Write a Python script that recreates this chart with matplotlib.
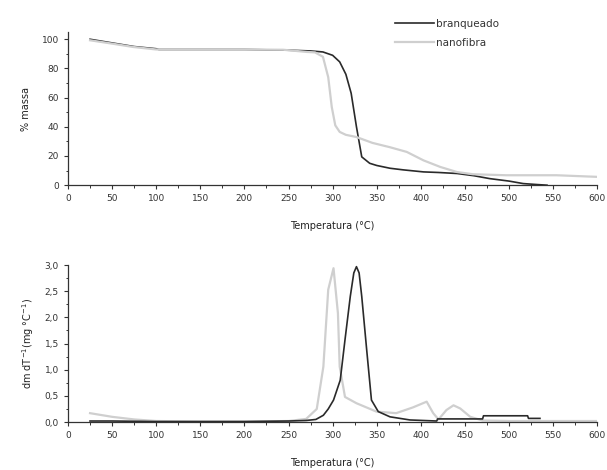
import matplotlib
matplotlib.use('Agg')
import matplotlib.pyplot as plt
from matplotlib.ticker import MultipleLocator, FuncFormatter

# TG - % massa
T_b = [25, 50, 75, 100, 103, 150, 200, 250, 275, 289, 300, 308, 315, 321, 327, 333, 342, 350,
       365, 380, 403, 420, 441, 460, 478, 500, 516, 530, 543]
m_b = [100, 97.5, 95, 93.5, 93, 93, 93, 92.5, 92, 91.3, 89, 84.5, 76, 63, 40, 19.4, 15, 13.5,
       11.6, 10.5, 9.1, 8.7, 8, 6.5, 4.5, 2.8, 1.1, 0.5, 0]
T_n = [25, 50, 74, 100, 150, 200, 244, 271, 280, 289, 295, 299, 303, 308, 315, 327, 345, 365,
       384, 403, 422, 441, 459, 497, 554, 600]
m_n = [99.3, 97, 94.7, 93, 93, 93, 92.8, 91.3, 91, 88, 74, 53.6, 41, 36.5, 34.5, 33, 29, 26,
       22.8, 17, 12.5, 9, 7.5, 6.8, 6.8, 5.7]

# DTG
T_db = [25, 50, 100, 200, 250, 270, 281, 289.5, 295, 301, 308.6, 314, 320, 324, 327, 330, 333,
        338.6, 344, 351.7, 365, 387.7, 418, 419, 470, 471, 521, 522, 535]
d_b = [0.02, 0.02, 0.01, 0.01, 0.02, 0.03, 0.05, 0.13, 0.25, 0.42, 0.8, 1.57, 2.4, 2.85, 2.97,
       2.85, 2.4, 1.38, 0.42, 0.2, 0.1, 0.04, 0.02, 0.06, 0.06, 0.12, 0.12, 0.07, 0.07]
T_dn = [25, 50, 75, 100, 150, 200, 250, 270, 282, 289.5, 295, 301, 306, 308, 314, 327, 349.6,
        372, 391, 406.6, 414, 420, 429, 437, 444.6, 456, 470, 500, 550, 600]
d_n = [0.17, 0.1, 0.05, 0.02, 0.01, 0.01, 0.02, 0.06, 0.25, 1.06, 2.53, 2.94, 2.08, 1.06, 0.48,
       0.36, 0.2, 0.17, 0.28, 0.39, 0.17, 0.05, 0.23, 0.32, 0.26, 0.1, 0.03, 0.02, 0.02, 0.02]

PRETO = '#2a2a2a'
CINZA = '#cfcfcf'
FS = 6.5

fig = plt.figure(figsize=(6.07, 4.70), dpi=100)
ax1 = fig.add_axes([0.112, 0.606, 0.872, 0.326])
ax2 = fig.add_axes([0.112, 0.102, 0.872, 0.334])

# cinza por cima do preto onde as curvas se sobrepoem (como no original)
ax1.plot(T_b, m_b, color=PRETO, lw=1.2, label='branqueado', zorder=2)
ax1.plot(T_n, m_n, color=CINZA, lw=1.6, label='nanofibra', zorder=3)
ax2.plot(T_dn, d_n, color=CINZA, lw=1.6)
ax2.plot(T_db, d_b, color=PRETO, lw=1.2)

for ax in (ax1, ax2):
    for s in ('top', 'right'):
        ax.spines[s].set_visible(False)
    for s in ('left', 'bottom'):
        ax.spines[s].set_color('#333333')
        ax.spines[s].set_linewidth(0.9)
    ax.set_xlim(0, 600)
    ax.xaxis.set_major_locator(MultipleLocator(50))
    ax.xaxis.set_minor_locator(MultipleLocator(25))
    ax.tick_params(which='major', direction='out', length=3, width=0.8,
                   labelsize=FS, colors='#333333')
    ax.tick_params(which='minor', direction='out', length=1.8, width=0.7, colors='#333333')
    ax.set_xlabel('Temperatura (°C)', fontsize=FS + 0.5, color='#222222', labelpad=13)

ax1.set_ylim(0, 105)
ax1.yaxis.set_major_locator(MultipleLocator(20))
ax1.yaxis.set_minor_locator(MultipleLocator(10))
ax1.set_ylabel('% massa', fontsize=FS + 0.5, color='#222222', labelpad=8)

ax2.set_ylim(0, 3.0)
ax2.yaxis.set_major_locator(MultipleLocator(0.5))
ax2.yaxis.set_minor_locator(MultipleLocator(0.25))
ax2.yaxis.set_major_formatter(FuncFormatter(lambda v, p: f'{v:.1f}'.replace('.', ',')))
ax2.set_ylabel('dm dT$^{-1}$(mg °C$^{-1}$)', fontsize=FS + 0.5, color='#222222', labelpad=6)

ax1.legend(loc='upper left', bbox_to_anchor=(0.635, 0.98),
           bbox_transform=fig.transFigure, frameon=False, fontsize=FS + 1,
           handlelength=3.8, handletextpad=0.2, labelspacing=0.85, labelcolor='#333333')

fig.savefig('out.png', dpi=100)
